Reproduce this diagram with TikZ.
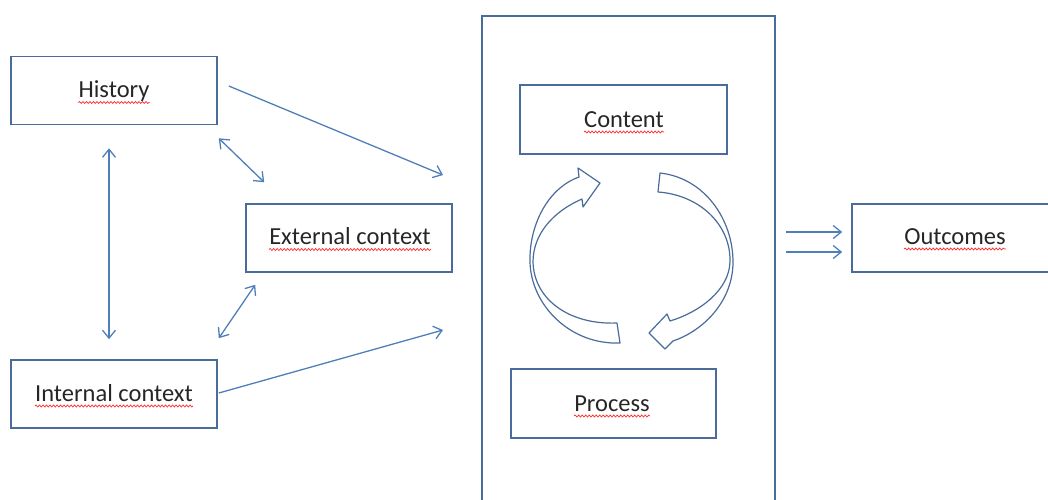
\documentclass[tikz,border=0pt]{standalone}
\usepackage{fontspec}
\setmainfont{Carlito}
\usetikzlibrary{arrows.meta,decorations.pathmorphing}
\definecolor{boxline}{HTML}{4A6C9B}
\definecolor{arrowline}{HTML}{4F7FBA}
\definecolor{spell}{HTML}{FF2A2A}

\begin{document}
\begin{tikzpicture}[x=1pt,y=-1pt,
  box/.style={draw=boxline, line width=1.6pt, minimum width=206pt, minimum height=68pt, inner sep=0pt},
  boxtext/.style={font=\fontsize{24.5}{28}\selectfont, text=black!85, inner sep=0pt, anchor=base},
  squiggle/.style={draw=spell, line width=0.7pt, decorate, decoration={snake, segment length=3.5pt, amplitude=1pt}},
  link/.style={draw=arrowline, line width=1.3pt, -{Straight Barb[length=8pt,width=13pt]}},
  twoway/.style={draw=arrowline, line width=1.3pt, {Straight Barb[length=8pt,width=13pt]}-{Straight Barb[length=8pt,width=13pt]}},
  cyclearrow/.style={draw=boxline, line width=1.2pt, fill=white, line join=round}]

\useasboundingbox (0,0) rectangle (1048,499);
\clip (0,0) rectangle (1048,499);

% boxes
\node[box] (hist) at (114,90.5) {};
\node[box] (ext) at (349,238) {};
\node[box] (int) at (114,394) {};
\node[box, minimum width=293pt, minimum height=510pt] (stage) at (628.5,271) {};
\node[box, minimum width=207pt, minimum height=69pt] (cont) at (623.5,119.5) {};
\node[box, minimum width=205pt, minimum height=69pt] (proc) at (613.5,403.5) {};
\node[box] (out) at (955,238) {};

% box texts
\node[boxtext] (histT) at ([yshift=-7pt]hist.center) {History};
\node[boxtext] (extT) at ([xshift=1pt,yshift=-6.5pt]ext.center) {External context};
\node[boxtext] (intT) at ([yshift=-7pt]int.center) {Internal context};
\node[boxtext] (contT) at ([xshift=0.5pt,yshift=-7.5pt]cont.center) {Content};
\node[boxtext] (procT) at ([xshift=-1.5pt,yshift=-7.5pt]proc.center) {Process};
\node[boxtext] (outT) at ([yshift=-6pt]out.center) {Outcomes};

% spelling underlines
\foreach \t in {histT,extT,intT,contT,procT,outT}
  \draw[squiggle] ([yshift=-5pt]\t.base west) -- ([yshift=-5pt]\t.base east);

% connectors
\coordinate (feedA) at (443,175);
\coordinate (feedB) at (443,330);
\draw[link] ([shift={(11,-4.5)}]hist.east) -- (feedA);
\draw[twoway] ([shift={(1,13)}]hist.south east) -- ([shift={(19,-21)}]ext.north west);
\draw[twoway] ([shift={(-5,23)}]hist.south) -- ([shift={(-5,-20)}]int.north);
\draw[twoway] ([shift={(1,-21)}]int.north east) -- ([shift={(10,12)}]ext.south west);
\draw[link] ([shift={(1,-1)}]int.east) -- (feedB);
\draw[link] ([shift={(10,-39)}]stage.east) -- ([shift={(-9,-6)}]out.west);
\draw[link] ([shift={(10,-19)}]stage.east) -- ([shift={(-9,14)}]out.west);

% cycle arrows between content and process
\draw[cyclearrow] (617,323) .. controls (570,325) and (534,300) .. (533,262)
  .. controls (533,235) and (552,212) .. (582,199) -- (583,207) -- (600,183)
  -- (578,168) -- (579,177) .. controls (548,188) and (529,225) .. (530,262)
  .. controls (531,305) and (570,345) .. (620,343) -- cycle;
\draw[cyclearrow] (660,173) .. controls (705,178) and (733,220) .. (733,262)
  .. controls (733,300) and (705,330) .. (673,341) -- (665,349) -- (649,333)
  -- (667,314) -- (670,321) .. controls (700,312) and (729,290) .. (730,262)
  .. controls (731,225) and (700,195) .. (658,192) -- cycle;
\end{tikzpicture}
\end{document}
